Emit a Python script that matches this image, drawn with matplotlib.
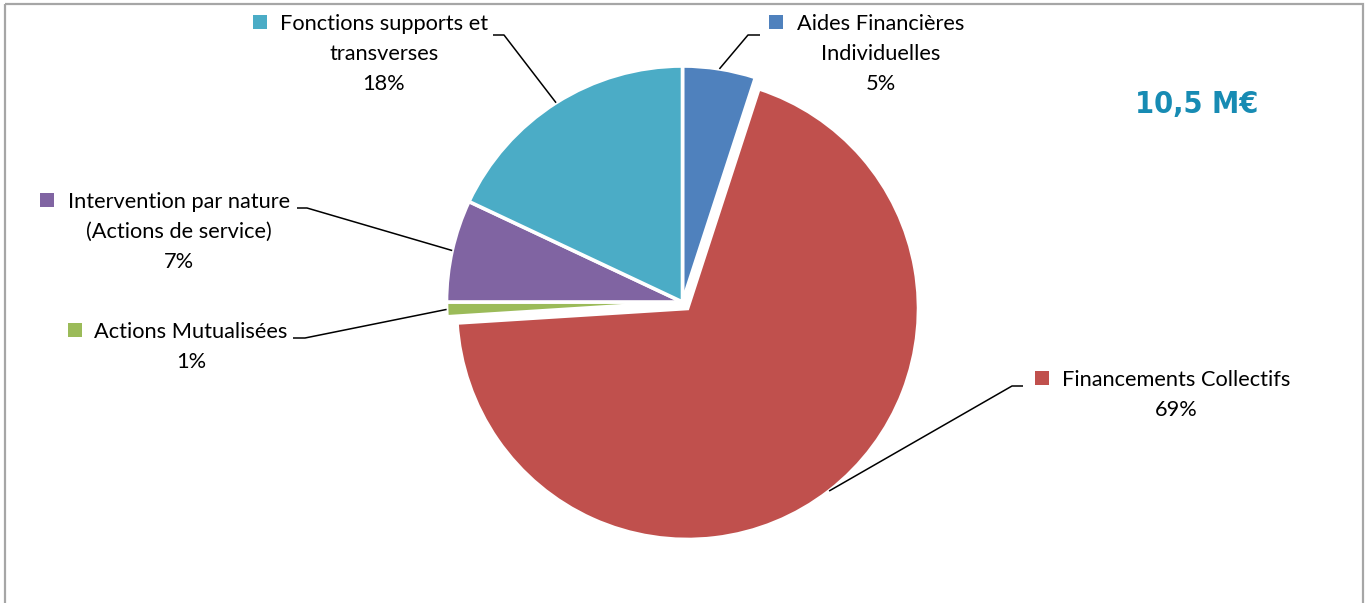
import numpy as np
import matplotlib
matplotlib.use("Agg")
import matplotlib.pyplot as plt
from matplotlib.patches import Rectangle
from matplotlib import font_manager as fm

# budget split (percent), in drawing order clockwise from 12 o'clock
categories = [
    "Aides Financières\nIndividuelles",
    "Financements Collectifs",
    "Actions Mutualisées",
    "Intervention par nature\n(Actions de service)",
    "Fonctions supports et\ntransverses",
]
shares = [5, 69, 1, 7, 18]
colors = ["#4F81BD", "#C0504D", "#9BBB59", "#8064A2", "#4BACC6"]
total_label = "10,5 M€"

W, H = 1369, 603
fig = plt.figure(figsize=(W / 100, H / 100), dpi=100)
ax = fig.add_axes([0, 0, 1, 1])

cx, cy, r = 682.5, 302, 236
wedges, _ = ax.pie(shares, colors=colors, startangle=-90, counterclock=True,
                   radius=r, center=(cx, cy),
                   wedgeprops=dict(edgecolor="white", linewidth=2.6))

# pull the big slice out a little and shrink it (exploded slice)
red = wedges[1]
tm = np.deg2rad((red.theta1 + red.theta2) / 2)
red.set_center((cx + 8.2 * np.cos(tm), cy + 8.2 * np.sin(tm)))
red.set_radius(231)

ax.set_xlim(0, W)
ax.set_ylim(H, 0)
ax.set_aspect("equal")
ax.axis("off")

# chart frame
ax.add_patch(Rectangle((4.5, 3.5), 1358, 700, fill=False, edgecolor="#A6A6A6", lw=1.6))

font = "Lato"
fs = 15.7
# (text center x, first baseline y, square center x, leader stub (x0, x1, y))
label_pos = [
    (881, 30, 776, (760, 748, 35)),
    (1176, 386, 1042, (1023, 1012, 386)),
    (191, 338, 75, (293, 305, 338)),
    (179, 208, 46.5, (297, 307, 208)),
    (384, 30, 260, (493, 504, 35)),
]
line_gap = 30

for w, name, val, col, (tx, ty, sx, (x0, x1, ly)) in zip(wedges, categories, shares, colors, label_pos):
    lines = name.split("\n") + [f"{val}%"]
    for i, s in enumerate(lines):
        ax.text(tx, ty + i * line_gap, s, ha="center", va="baseline",
                fontsize=fs, family=font, color="black")
    ax.add_patch(Rectangle((sx - 7, ty - 15), 14, 14, color=col, lw=0))
    # leader line from the middle of the outer arc to the label
    wx, wy = w.center
    t = np.deg2rad((w.theta1 + w.theta2) / 2)
    ex, ey = wx + w.r * np.cos(t), wy + w.r * np.sin(t)
    ax.plot([x0, x1, ex], [ly, ly, ey], color="black", lw=1.1, solid_capstyle="butt")

# narrow bold face for the total if one is around
total_font = fm.FontProperties(family="DejaVu Sans", stretch="condensed", weight="bold", size=22)
if "Condensed" not in fm.findfont(total_font):
    total_font = fm.FontProperties(family="Liberation Sans", weight="bold", size=21)
ax.text(1197, 113, total_label, ha="center", va="baseline",
        fontproperties=total_font, color="#178BB3")

fig.savefig("out.png", dpi=100)
